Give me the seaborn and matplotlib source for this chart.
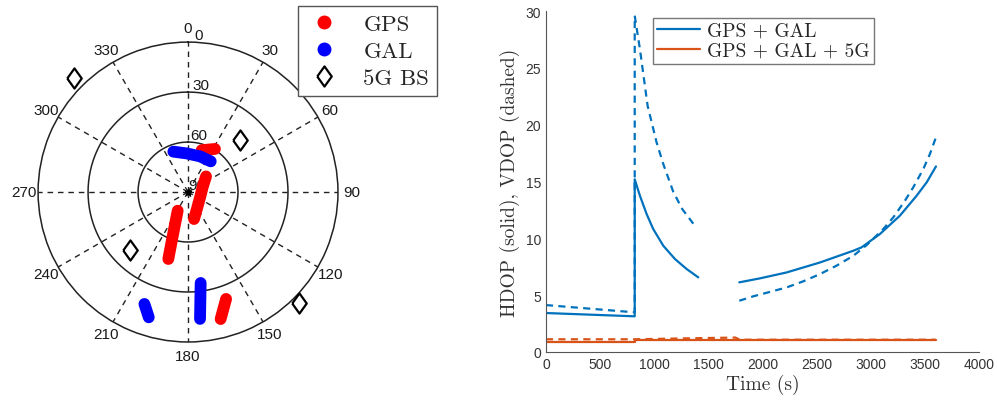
import numpy as np
import pandas as pd
import matplotlib
matplotlib.use("Agg")
import matplotlib.pyplot as plt
from matplotlib.lines import Line2D
import seaborn as sns

# sky plot: tracks as (azimuth deg, elevation deg)
gps_tracks = [
    [(18, 63.6), (32, 59.5)],
    [(49, 75.7), (72, 80.8), (114, 82.1), (151, 78.8), (167.5, 73.4)],
    [(209, 77.2), (201.1, 67.3), (198.1, 57.8), (196.4, 48.1)],
    [(160.4, 21.9), (165.6, 11.3)],
]
gal_tracks = [
    [(340, 64.2), (358, 66.8), (18.6, 67.4), (36.5, 67.1)],
    [(172.1, 34.9), (174.6, 13.5)],
    [(201.3, 17.9), (197.4, 11.2)],
]
bs_az = [315, 45, 225, 135]
bs_el = [-6.6, 45.5, 40.4, -3.9]

az_ticks = [0, 30, 60, 90, 120, 150, 180, 210, 240, 270, 300, 330]
el_ticks = [0, 30, 60, 90]

# DOP time series, segments split where the curve breaks
hdop_gg_1_t = [0, 820, 820, 868, 930, 991, 1084, 1192, 1300, 1407]
hdop_gg_1_v = [3.43, 3.14, 15.2, 13.75, 12.14, 10.82, 9.35, 8.18, 7.30, 6.57]
hdop_gg_2_t = [1786, 1977, 2223, 2532, 2839, 2916, 3085, 3270, 3424, 3517, 3603]
hdop_gg_2_v = [6.13, 6.48, 7.0, 7.88, 8.91, 9.21, 10.38, 12.0, 13.75, 14.93, 16.33]
vdop_gg_1_t = [0, 820, 820, 868, 939, 1022, 1084, 1176, 1259, 1376]
vdop_gg_1_v = [4.13, 3.49, 29.6, 26.66, 21.67, 18.45, 16.54, 14.1, 12.58, 11.1]
vdop_gg_2_t = [1786, 1915, 2223, 2377, 2532, 2685, 2840, 2963, 3116, 3209, 3316, 3393, 3486, 3547, 3603]
vdop_gg_2_v = [4.51, 4.9, 5.68, 6.22, 6.86, 7.6, 8.47, 9.41, 10.82, 11.85, 13.31, 14.49, 16.1, 17.42, 18.9]
hdop_5g_t = [0, 820, 820, 3600]
hdop_5g_v = [0.92, 0.92, 1.02, 1.02]
vdop_5g_t = [0, 820, 1300, 1750, 1790, 3600]
vdop_5g_v = [1.12, 1.12, 1.2, 1.27, 1.08, 1.08]

sns.set_style("white")
plt.rcParams["font.family"] = ["Liberation Sans", "DejaVu Sans"]

fig = plt.figure(figsize=(9.97, 4.02), dpi=100)

# ---------------- sky plot ----------------
ax = fig.add_axes([0.0381, 0.1468, 0.301, 0.746], projection="polar")
ax.set_theta_zero_location("N")
ax.set_theta_direction(-1)
ax.set_ylim(0, 90)
ax.set_xticks(np.radians(az_ticks))
ax.set_xticklabels([])
ax.set_yticks([30, 60])
ax.set_yticklabels([])
ax.grid(False)
ax.spines["polar"].set_color("#222222")
ax.spines["polar"].set_linewidth(1.1)
for r in [30, 60]:
    ax.plot(np.linspace(0, 2 * np.pi, 361), np.full(361, r), color="#222222", lw=1.1, zorder=1)
for a in az_ticks:
    ax.plot([np.radians(a), np.radians(a)], [0, 90], color="#222222", lw=1.0,
            ls=(0, (4, 3.5)), zorder=1)
    ax.text(np.radians(a), 98.5, str(a), ha="center", va="center", fontsize=11,
            color="#1a1a1a", clip_on=False)
for e in el_ticks:
    ax.text(np.radians(2.5), 90 - e, str(e), ha="left", va="bottom", fontsize=11,
            color="#1a1a1a", zorder=1)
ax.plot([0], [0], marker="*", color="k", ms=5, zorder=1)

for tracks, col in [(gps_tracks, "#ff0000"), (gal_tracks, "#0000ff")]:
    for tr in tracks:
        az = np.unwrap(np.radians([p[0] for p in tr]))
        rr = [90 - p[1] for p in tr]
        ax.plot(az, rr, color=col, lw=8.5, solid_capstyle="round", zorder=3)

diamond = [(-0.72, 0), (0, 1), (0.72, 0), (0, -1), (-0.72, 0)]
ax.plot(np.radians(bs_az), [90 - e for e in bs_el], ls="none", marker=diamond, ms=14.5,
        mfc="white", mec="black", mew=1.6, clip_on=False, zorder=4)

h_left = [
    Line2D([], [], ls="none", marker="o", color="#ff0000", ms=9),
    Line2D([], [], ls="none", marker="o", color="#0000ff", ms=9),
    Line2D([], [], ls="none", marker=diamond, ms=14.5, mfc="white", mec="black", mew=1.6),
]
fig.legend(h_left, ["GPS", "GAL", "5G BS"], loc="upper left",
           bbox_to_anchor=(0.299, 0.983), prop={"family": "cmr10", "size": 16.5},
           frameon=True, fancybox=False, edgecolor="#555555", framealpha=1,
           handlelength=1.6, handletextpad=0.9, borderpad=0.35, labelspacing=0.3,
           borderaxespad=0)

# ---------------- DOP plot ----------------
rows = []
for name, sysname, metric, ts, vs in [
    ("h1", "GPS + GAL", "HDOP", hdop_gg_1_t, hdop_gg_1_v),
    ("h2", "GPS + GAL", "HDOP", hdop_gg_2_t, hdop_gg_2_v),
    ("v1", "GPS + GAL", "VDOP", vdop_gg_1_t, vdop_gg_1_v),
    ("v2", "GPS + GAL", "VDOP", vdop_gg_2_t, vdop_gg_2_v),
    ("h5", "GPS + GAL + 5G", "HDOP", hdop_5g_t, hdop_5g_v),
    ("v5", "GPS + GAL + 5G", "VDOP", vdop_5g_t, vdop_5g_v),
]:
    for t, v in zip(ts, vs):
        rows.append({"seg": name, "system": sysname, "metric": metric, "t": t, "v": v})
df = pd.DataFrame(rows)

blue = "#0072BD"
orange = "#D95319"
ax2 = fig.add_axes([0.5476, 0.1219, 0.4343, 0.848])
sns.lineplot(data=df, x="t", y="v", hue="system", style="metric", units="seg",
             estimator=None, sort=False, palette={"GPS + GAL": blue, "GPS + GAL + 5G": orange},
             dashes={"HDOP": "", "VDOP": (3.2, 2.4)}, lw=1.6, legend=False, ax=ax2)
ax2.set_xlim(0, 4000)
ax2.set_ylim(0, 30)
ax2.set_xticks(np.arange(0, 4001, 500))
ax2.set_yticks(np.arange(0, 31, 5))
ax2.tick_params(direction="in", length=4, width=0.7, color="#555555",
                labelcolor="#333333", labelsize=10)
for s in ["top", "right"]:
    ax2.spines[s].set_visible(False)
for s in ["left", "bottom"]:
    ax2.spines[s].set_color("#555555")
    ax2.spines[s].set_linewidth(0.8)
ax2.set_xlabel("Time (s)", family="cmr10", fontsize=14, color="#333333", labelpad=2)
ax2.set_ylabel("HDOP (solid), VDOP (dashed)", family="cmr10", fontsize=14,
               color="#333333", labelpad=4)
h_right = [Line2D([], [], color=blue, lw=1.6), Line2D([], [], color=orange, lw=1.6)]
ax2.legend(h_right, ["GPS + GAL", "GPS + GAL + 5G"], loc="upper left",
           bbox_to_anchor=(0.247, 0.979), prop={"family": "cmr10", "size": 14},
           frameon=True, fancybox=False, edgecolor="#777777", framealpha=1,
           handlelength=2.2, handletextpad=0.4, borderpad=0.2, labelspacing=0.1,
           borderaxespad=0)

fig.savefig("out.png", dpi=100)
